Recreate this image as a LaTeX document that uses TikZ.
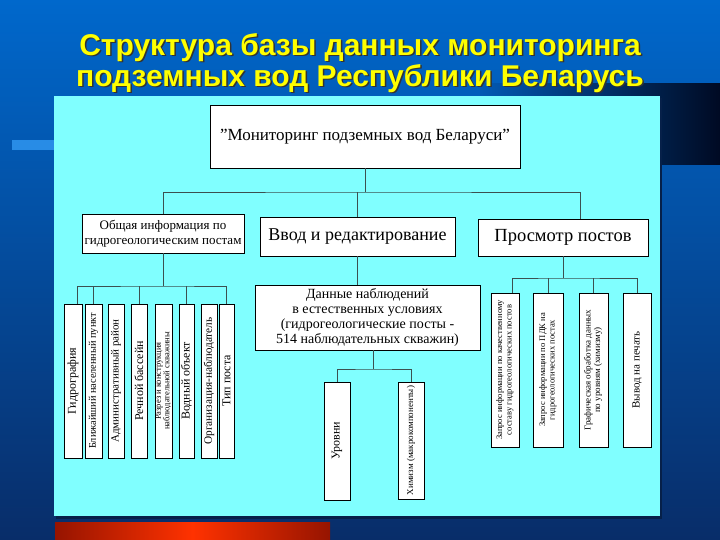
\documentclass[tikz,border=0pt]{standalone}
\usepackage{fontspec}
\usepackage{graphicx}
\setmainfont{Liberation Serif}
\newfontfamily\titlefont{Liberation Sans}
\usetikzlibrary{calc}
\definecolor{panelcyan}{RGB}{128,255,255}
\definecolor{bgtop}{RGB}{0,104,204}
\definecolor{bgbot}{RGB}{8,45,105}
\definecolor{darkband}{RGB}{0,10,35}
\definecolor{lightbar}{RGB}{40,140,230}
\definecolor{redmid}{RGB}{255,50,0}
\definecolor{reddark}{RGB}{150,20,0}
\definecolor{titleyellow}{RGB}{255,255,0}
\definecolor{conn}{RGB}{60,80,80}
\tikzset{
  box/.style={draw=black, line width=0.8pt, fill=white, inner sep=2pt, align=center},
  vbox/.style={box, inner sep=0pt, font=\fontsize{12}{12}\selectfont},
  rbox/.style={box, inner sep=0pt, font=\fontsize{8.5}{9.5}\selectfont},
  conline/.style={draw=conn, line width=0.7pt},
  titletext/.style={font=\titlefont\bfseries\fontsize{30}{31}\selectfont, align=center},
}
\newcommand{\twol}[2]{\rotatebox{90}{\begin{tabular}{@{}c@{}}#1\\#2\end{tabular}}}
\begin{document}
\begin{tikzpicture}[x=1pt,y=-1pt]
\useasboundingbox (0,0) rectangle (720,540);
% background
\fill[top color=bgtop, bottom color=bgbot] (0,0) rectangle (720,540);
\fill[left color=bgtop!75!bgbot, right color=darkband] (480,84) rectangle (720,165);
\fill[lightbar] (12,140) rectangle (55,150);
\fill[bgbot!70!black] (56,98) rectangle (662,519);
\fill[panelcyan] (54,96) rectangle (660,516);
\fill[left color=reddark, right color=reddark, middle color=redmid] (55,522) rectangle (330,540);
% title
\node[titletext, text=black!80] (titleshadow) at (361.5,64.5) {Структура базы данных мониторинга\\подземных вод Республики Беларусь};
\node[titletext, text=titleyellow] (title) at (360,63) {Структура базы данных мониторинга\\подземных вод Республики Беларусь};
% top level
\node[box, minimum width=310, minimum height=63, font=\fontsize{17}{19}\selectfont] (top) at (365,136.5) {"Мониторинг подземных вод Беларуси”};
% second level
\node[box, minimum width=162, minimum height=39, inner sep=1pt, font=\fontsize{13}{14.5}\selectfont] (A) at (163,233.5) {Общая информация по\\гидрогеологическим постам};
\node[box, minimum width=195, minimum height=39, font=\fontsize{18}{20}\selectfont] (B) at (357.5,236.5) {Ввод и редактирование};
\node[box, minimum width=170, minimum height=37, font=\fontsize{18.5}{20}\selectfont] (C) at (563,237.5) {Просмотр постов};
% data box
\node[box, minimum width=225, minimum height=65, inner sep=1pt, font=\fontsize{14}{14.7}\selectfont] (D) at (367.5,317.5) {Данные наблюдений\\в естественных условиях\\(гидрогеологические посты -\\514 наблюдательных скважин)};
% left group
\node[vbox, minimum width=18, minimum height=154] (l1) at (73,381) {\rotatebox{90}{Гидрография}};
\node[vbox, minimum width=17, minimum height=154, font=\fontsize{10.3}{10}\selectfont] (l2) at (93.5,381) {\rotatebox{90}{Ближайший населенный пункт}};
\node[vbox, minimum width=16, minimum height=154, font=\fontsize{11}{11}\selectfont] (l3) at (116,381) {\rotatebox{90}{Административный район}};
\node[vbox, minimum width=16, minimum height=154] (l4) at (139,381) {\rotatebox{90}{Речной бассейн}};
\node[vbox, minimum width=17, minimum height=154, font=\fontsize{8.5}{8}\selectfont] (l5) at (163.5,381) {\twol{Разрез и конструкция}{наблюдательной скважины}};
\node[vbox, minimum width=15, minimum height=154] (l6) at (186.5,381) {\rotatebox{90}{Водный объект}};
\node[vbox, minimum width=16, minimum height=154, font=\fontsize{11.3}{11}\selectfont] (l7) at (209,381) {\rotatebox{90}{Организация-наблюдатель}};
\node[vbox, minimum width=15, minimum height=154] (l8) at (226.5,381) {\rotatebox{90}{Тип поста}};
% right group
\node[rbox, minimum width=28, minimum height=154] (r1) at (505,370) {\twol{Запрос информации по качественному}{составу гидрогеологических постов}};
\node[rbox, minimum width=30, minimum height=154] (r2) at (548,370) {\twol{Запрос информации по ПДК на}{гидрогеологических постах}};
\node[rbox, minimum width=29, minimum height=154, font=\fontsize{9}{9.5}\selectfont] (r3) at (593.5,370) {\twol{Графическая обработка данных}{по уровням (химизму)}};
\node[rbox, minimum width=28, minimum height=154, font=\fontsize{11}{11}\selectfont] (r4) at (637,370) {\rotatebox{90}{Вывод на печать}};
% bottom pair
\node[rbox, minimum width=26, minimum height=118, font=\fontsize{12}{12}\selectfont] (u) at (337,441) {\rotatebox{90}{Уровни}};
\node[rbox, minimum width=26, minimum height=117, font=\fontsize{9}{9}\selectfont] (h) at (411,440.5) {\rotatebox{90}{Химизм (макрокомпоненты)}};
% connectors top
\coordinate (j1) at (365,192);
\draw[conline] (top.south) -- (j1);
\draw[conline] (A.north) |- (j1) -| ([xshift=17pt]C.north);
\draw[conline] (B.north) -- (B.north |- j1);
% left group connectors
\coordinate (j2) at (163,286);
\draw[conline] (A.south) -- (j2);
\draw[conline] ([xshift=4pt]l1.north) |- (j2) -| (l8.north);
\draw[conline] (l2.north) -- (l2.north |- j2);
\draw[conline] (l4.north) -- (l4.north |- j2);
\draw[conline] (l6.north) -- (l6.north |- j2);
% data connectors
\draw[conline] (B.south) -- (B.south |- D.north);
\coordinate (j3) at (373,369);
\draw[conline] (D.south -| j3) -- (j3);
\draw[conline] (u.north) |- (j3) -| (h.north);
% right group connectors
\coordinate (j4) at (563,278);
\draw[conline] (C.south) -- (j4);
\draw[conline] ([xshift=7pt]r1.north) |- (j4) -| (r4.north);
\draw[conline] (r2.north) -- (r2.north |- j4);
\draw[conline] (r3.north) -- (r3.north |- j4);
\end{tikzpicture}
\end{document}
